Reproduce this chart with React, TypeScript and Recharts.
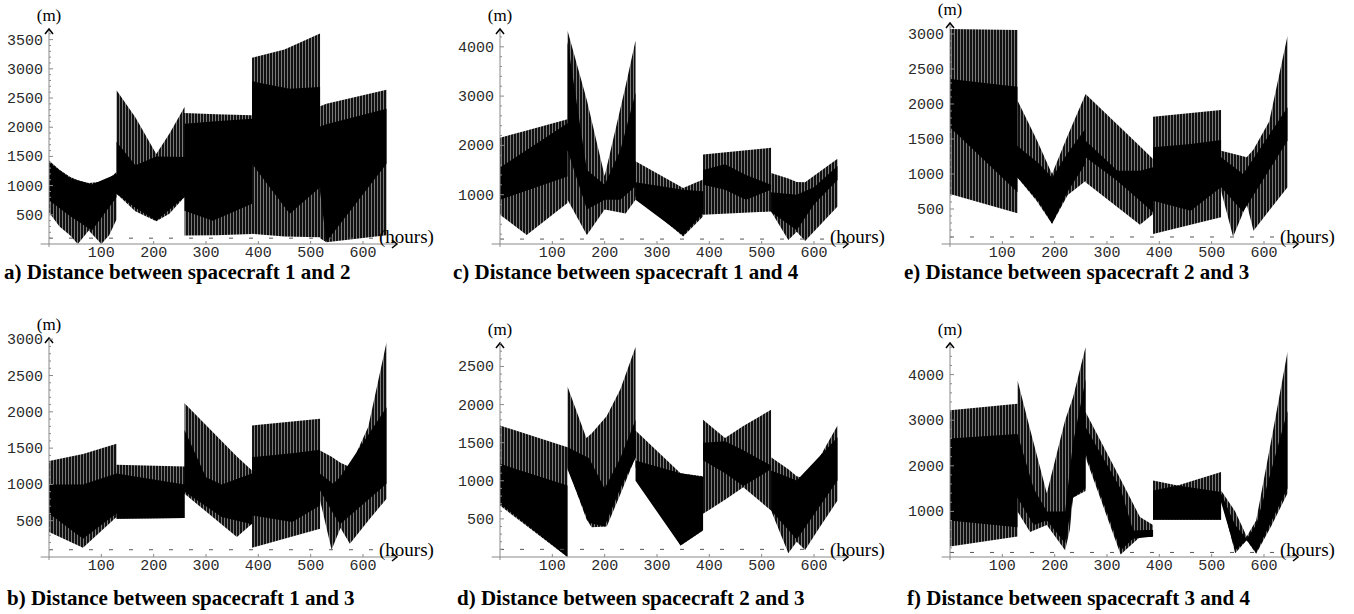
import { Area, ComposedChart, ReferenceLine, XAxis, YAxis } from "recharts";

// [hours, lower envelope (m), upper envelope (m)]
type Row = [number, number, number];

const HOUR_TICKS = [100, 200, 300, 400, 500, 600];
const HOUR_MAX = 665;
const THRESHOLD_M = 100;

// spacecraft 1 and 2
const outer12: Row[] = [
  [0, 545, 1431], [20, 300, 1270], [40, 150, 1150], [55, 0, 1090], [76, 230, 1045],
  [100, 0, 1065], [115, 150, 1120], [129, 420, 1231],
  [129, 860, 2631], [165, 560, 2171], [205, 391, 1540], [230, 520, 1886], [259, 803, 2346],
  [259, 146, 2243], [320, 150, 2220], [388, 170, 2203],
  [388, 174, 3191], [450, 130, 3330], [518, 117, 3603],
  [518, 100, 2357], [530, 30, 2400], [645, 150, 2643],
];
const core12: Row[] = [
  [0, 750, 1400], [40, 480, 1130], [82, 230, 1020], [129, 800, 1200],
  [129, 860, 1750], [165, 620, 1350], [205, 400, 1500], [259, 803, 1490],
  [259, 571, 2060], [313, 400, 2100], [388, 689, 2146],
  [388, 1373, 2786], [460, 517, 2660], [518, 974, 2690],
  [518, 900, 2014], [530, 40, 2050], [645, 1373, 2317],
];
const ticks12 = [500, 1000, 1500, 2000, 2500, 3000, 3500];

// spacecraft 1 and 3
const outer13: Row[] = [
  [0, 344, 1321], [65, 128, 1420], [129, 550, 1560],
  [129, 527, 1270], [259, 537, 1248],
  [259, 872, 2119], [359, 275, 1383], [388, 459, 1193],
  [388, 128, 1812], [518, 390, 1904],
  [518, 780, 1468], [540, 101, 1380], [557, 400, 1300], [575, 183, 1239], [610, 500, 1790], [645, 803, 2959],
];
const core13: Row[] = [
  [0, 600, 1000], [65, 250, 1000], [129, 600, 1150],
  [129, 527, 1150], [259, 537, 1000],
  [259, 900, 1750], [300, 700, 1100], [330, 550, 1000], [388, 450, 1150],
  [388, 573, 1376], [465, 482, 1430], [518, 711, 1477],
  [518, 917, 1147], [543, 600, 1009], [556, 450, 1100], [645, 1009, 2064],
];
const ticks13 = [500, 1000, 1500, 2000, 2500, 3000];

// spacecraft 1 and 4
const outer14: Row[] = [
  [0, 592, 2156], [51, 184, 2300], [129, 830, 2530],
  [129, 900, 4330], [166, 184, 2917], [200, 700, 1380], [240, 620, 3203], [259, 900, 4130],
  [259, 966, 1680], [350, 150, 1136], [388, 558, 1306],
  [388, 592, 1816], [518, 660, 1950],
  [518, 660, 1442], [551, 82, 1330], [567, 250, 1260], [583, 60, 1250], [645, 760, 1727],
];
const core14: Row[] = [
  [0, 900, 1550], [129, 1370, 2450],
  [129, 1900, 4100], [166, 700, 1500], [200, 900, 1200], [230, 900, 1900], [259, 1170, 3070],
  [259, 900, 1250], [350, 180, 1100], [388, 620, 1070],
  [388, 1200, 1500], [430, 1100, 1620], [470, 900, 1400], [518, 1100, 1200],
  [518, 650, 1050], [567, 280, 1000], [600, 800, 1150], [645, 1300, 1580],
];
const ticks14 = [1000, 2000, 3000, 4000];

// spacecraft 2 and 3 (first run)
const outer23: Row[] = [
  [0, 714, 3071], [129, 438, 3057],
  [129, 950, 2050], [165, 620, 1500], [195, 290, 1000], [225, 700, 1550], [259, 900, 2140],
  [259, 881, 2143], [363, 276, 1395], [388, 428, 1214],
  [388, 143, 1819], [518, 381, 1914],
  [518, 762, 1333], [541, 105, 1290], [567, 571, 1238], [580, 190, 1350], [610, 480, 1750], [645, 810, 2976],
];
const core23: Row[] = [
  [0, 1667, 2357], [129, 738, 2248],
  [129, 950, 1400], [170, 600, 1150], [195, 290, 950], [225, 750, 1300], [259, 1150, 1650],
  [259, 1238, 1476], [320, 900, 1048], [363, 619, 1048], [388, 452, 1095],
  [388, 619, 1381], [460, 476, 1430], [518, 810, 1486],
  [518, 810, 1238], [560, 460, 1000], [645, 1476, 1952],
];
const ticks23 = [500, 1000, 1500, 2000, 2500, 3000];

// spacecraft 2 and 3 (second run)
const outer23b: Row[] = [
  [0, 675, 1725], [129, 0, 1441],
  [129, 1178, 2237], [165, 500, 1560], [175, 391, 1620], [204, 400, 1850], [230, 824, 2200], [259, 1310, 2754],
  [259, 1178, 1660], [345, 150, 1100], [388, 347, 1060],
  [388, 566, 1800], [430, 750, 1560], [465, 916, 1720], [518, 610, 1932],
  [518, 610, 1310], [551, 50, 1150], [567, 200, 1060], [583, 93, 1030], [610, 380, 1300], [645, 741, 1725],
];
const core23b: Row[] = [
  [0, 700, 1222], [129, 0, 937],
  [129, 1150, 1441], [170, 450, 1300], [200, 400, 900], [230, 900, 1300], [259, 1300, 1800],
  [259, 1000, 1265], [345, 150, 1100], [388, 350, 1050],
  [388, 1270, 1500], [430, 1100, 1520], [465, 930, 1400], [518, 1150, 1200],
  [518, 610, 1135], [567, 230, 1003], [645, 1003, 1572],
];
const ticks23b = [500, 1000, 1500, 2000, 2500];

// spacecraft 3 and 4
const outer34: Row[] = [
  [0, 232, 3217], [129, 452, 3363],
  [129, 1000, 3875], [153, 550, 2800], [185, 700, 1400], [220, 150, 3000], [229, 600, 3300], [235, 1300, 3500], [259, 1450, 4600],
  [259, 2190, 3181], [326, 56, 1703], [363, 437, 875], [388, 437, 700],
  [388, 816, 1680], [435, 816, 1570], [518, 816, 1863],
  [518, 1300, 1461], [545, 80, 1000], [567, 370, 450], [585, 70, 800], [615, 700, 2625], [645, 1400, 4500],
];
const core34: Row[] = [
  [0, 800, 2600], [129, 655, 2700],
  [129, 1300, 2700], [160, 700, 1500], [185, 800, 1000], [220, 300, 1000], [235, 1300, 2500], [259, 1500, 3900],
  [259, 2265, 2850], [326, 144, 1500], [350, 400, 583], [388, 450, 600],
  [388, 816, 1461], [435, 816, 1570], [518, 816, 1424],
  [518, 1200, 1400], [545, 150, 700], [567, 370, 400], [585, 100, 700], [645, 1500, 3200],
];
const ticks34 = [1000, 2000, 3000, 4000];

type Panel = {
  id: string;
  caption: string;
  outer: Row[];
  core: Row[];
  ticks: number[];
  minorStep: number;
  yMax: number;
  left: number;
  top: number;
  plotTop: number;
  axisY: number;
  captionLeft: number;
  captionTop: number;
};

const PANELS: Panel[] = [
  { id: "a", caption: "a) Distance between spacecraft 1 and 2", outer: outer12, core: core12, ticks: ticks12, minorStep: 100, yMax: 3682, left: 0, top: 0, plotTop: 29, axisY: 244, captionLeft: 4, captionTop: 264 },
  { id: "c", caption: "c) Distance between spacecraft 1 and 4", outer: outer14, core: core14, ticks: ticks14, minorStep: 200, yMax: 4361, left: 451, top: 0, plotTop: 29, axisY: 244, captionLeft: 453, captionTop: 264 },
  { id: "e", caption: "e) Distance between spacecraft 2 and 3", outer: outer23, core: core23, ticks: ticks23, minorStep: 100, yMax: 3157, left: 901, top: 0, plotTop: 23, axisY: 244, captionLeft: 904, captionTop: 264 },
  { id: "b", caption: "b) Distance between spacecraft 1 and 3", outer: outer13, core: core13, ticks: ticks13, minorStep: 100, yMax: 3017, left: 0, top: 310, plotTop: 338, axisY: 557, captionLeft: 7, captionTop: 590 },
  { id: "d", caption: "d) Distance between spacecraft 2 and 3", outer: outer23b, core: core23b, ticks: ticks23b, minorStep: 100, yMax: 2808, left: 451, top: 310, plotTop: 343, axisY: 557, captionLeft: 457, captionTop: 590 },
  { id: "f", caption: "f) Distance between spacecraft 3 and 4", outer: outer34, core: core34, ticks: ticks34, minorStep: 200, yMax: 4693, left: 901, top: 310, plotTop: 343, axisY: 557, captionLeft: 907, captionTop: 590 },
];

const CHART_WIDTH = 445;
const X_AXIS_HEIGHT = 30;
const AXIS_GREY = "#8a8a8a";
const MONO = "'Liberation Mono', 'DejaVu Sans Mono', monospace";
const SERIF = "'Liberation Serif', 'DejaVu Serif', serif";

function withMinorTicks(major: number[], step: number, max: number) {
  const all = [...major];
  for (let v = step; v < max; v += step) {
    if (!major.includes(v)) all.push(v);
  }
  return all.sort((a, b) => a - b);
}

function ValueTick(props: any) {
  const { x, y, payload, labelled } = props;
  const axisX = x + 6;
  const major = labelled.includes(payload.value);
  return (
    <g>
      <line x1={axisX} y1={y} x2={axisX + (major ? 4 : 2)} y2={y} stroke={AXIS_GREY} />
      {major && (
        <text x={x} y={y + 5} textAnchor="end" fontFamily={MONO} fontSize={15} fill="#2a2a2a">
          {payload.value}
        </text>
      )}
    </g>
  );
}

function HourTick(props: any) {
  const { x, y, payload } = props;
  return (
    <g>
      <line x1={x} y1={y} x2={x} y2={y - 3} stroke={AXIS_GREY} />
      <text x={x} y={y + 13} textAnchor="middle" fontFamily={MONO} fontSize={15} fill="#2a2a2a">
        {payload.value}
      </text>
    </g>
  );
}

function ValueAxis(props: any) {
  const { x1, y1, y2 } = props;
  const top = Math.min(y1, y2);
  const bottom = Math.max(y1, y2);
  return (
    <g>
      <line x1={x1} y1={bottom + 3} x2={x1} y2={top} stroke={AXIS_GREY} />
      <path
        d={`M${x1 - 4},${top + 5}L${x1},${top}L${x1 + 4},${top + 5}`}
        fill="none"
        stroke="#000"
        strokeWidth={1.5}
      />
      <text x={x1} y={top - 8} textAnchor="middle" fontFamily={SERIF} fontSize={17} fill="#000">
        (m)
      </text>
    </g>
  );
}

function HourAxis(props: any) {
  const { x1, x2, y1 } = props;
  const left = Math.min(x1, x2);
  const right = Math.max(x1, x2);
  return (
    <g>
      <line x1={left} y1={y1} x2={right} y2={y1} stroke={AXIS_GREY} />
      <path
        d={`M${right - 5},${y1 - 4}L${right},${y1}L${right - 5},${y1 + 4}`}
        fill="none"
        stroke="#000"
        strokeWidth={1.5}
      />
      <text x={right - 18} y={y1 - 1} fontFamily={SERIF} fontSize={19} fill="#000">
        (hours)
      </text>
    </g>
  );
}

function DistancePanel({ panel }: { panel: Panel }) {
  const height = panel.axisY - panel.top + X_AXIS_HEIGHT;
  const ticks = withMinorTicks(panel.ticks, panel.minorStep, panel.yMax);
  const hatchId = `hatch-${panel.id}`;

  return (
    <>
      <div style={{ position: "absolute", left: panel.left, top: panel.top }}>
        <ComposedChart
          width={CHART_WIDTH}
          height={height}
          margin={{ top: panel.plotTop - panel.top, right: 48, bottom: 0, left: 4 }}
        >
          <defs>
            {/* dense orbital oscillation: dark strokes on a grey ground */}
            <pattern id={hatchId} width={3} height={8} patternUnits="userSpaceOnUse">
              <rect width={3} height={8} fill="#7a7a7a" />
              <rect width={2} height={8} fill="#111" />
            </pattern>
          </defs>
          <XAxis
            type="number"
            dataKey={(r: Row) => r[0]}
            domain={[0, HOUR_MAX]}
            ticks={HOUR_TICKS}
            interval={0}
            allowDataOverflow
            axisLine={false}
            tickLine={false}
            tickSize={0}
            tickMargin={0}
            height={X_AXIS_HEIGHT}
            tick={(t: any) => <HourTick {...t} />}
          />
          <YAxis
            type="number"
            domain={[0, panel.yMax]}
            ticks={ticks}
            interval={0}
            allowDataOverflow
            axisLine={false}
            tickLine={false}
            tickSize={4}
            tickMargin={2}
            width={45}
            tick={(t: any) => <ValueTick {...t} labelled={panel.ticks} />}
          />
          <ReferenceLine
            segment={[{ x: 0, y: THRESHOLD_M }, { x: 640, y: THRESHOLD_M }]}
            stroke="#555"
            strokeDasharray="4 16"
            ifOverflow="visible"
          />
          <Area
            name="envelope"
            data={panel.outer}
            dataKey={(r: Row) => [r[1], r[2]]}
            type="linear"
            stroke="none"
            fill={`url(#${hatchId})`}
            fillOpacity={1}
            dot={false}
            activeDot={false}
            isAnimationActive={false}
          />
          <Area
            name="core"
            data={panel.core}
            dataKey={(r: Row) => [r[1], r[2]]}
            type="linear"
            stroke="none"
            fill="#000"
            fillOpacity={1}
            dot={false}
            activeDot={false}
            isAnimationActive={false}
          />
          <ReferenceLine
            segment={[{ x: 0, y: 0 }, { x: 0, y: panel.yMax }]}
            ifOverflow="visible"
            shape={(p: any) => <ValueAxis {...p} />}
          />
          <ReferenceLine
            segment={[{ x: -16, y: 0 }, { x: HOUR_MAX, y: 0 }]}
            ifOverflow="visible"
            shape={(p: any) => <HourAxis {...p} />}
          />
        </ComposedChart>
      </div>
      <div
        style={{
          position: "absolute",
          left: panel.captionLeft,
          top: panel.captionTop,
          fontFamily: SERIF,
          fontWeight: "bold",
          fontSize: 21,
          lineHeight: "16px",
          whiteSpace: "nowrap",
          color: "#000",
        }}
      >
        {panel.caption}
      </div>
    </>
  );
}

export default function App() {
  return (
    <div
      style={{
        position: "absolute",
        left: 0,
        top: 0,
        width: 1354,
        height: 614,
        background: "#fff",
        overflow: "hidden",
      }}
    >
      {PANELS.map((p) => (
        <DistancePanel key={p.id} panel={p} />
      ))}
    </div>
  );
}
